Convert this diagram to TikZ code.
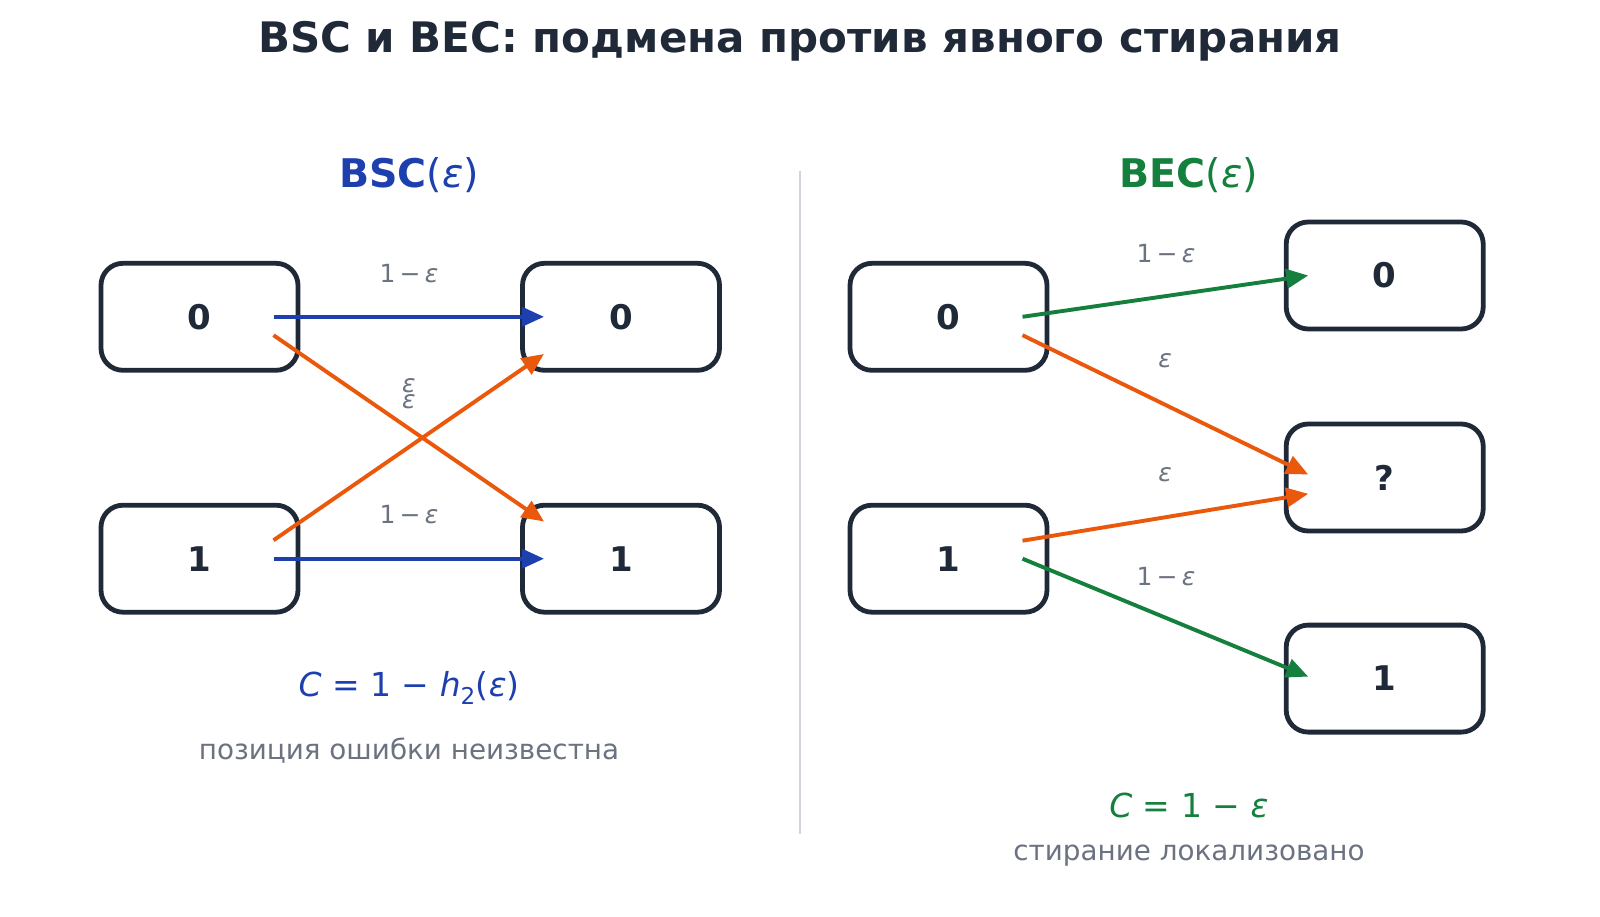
\documentclass[tikz,border=0pt]{standalone}
\usepackage{fontspec}
\setmainfont{DejaVu Sans}
\usepackage{tikz}
\usetikzlibrary{arrows.meta,positioning}
\definecolor{ink}{HTML}{1F2937}
\definecolor{bscblue}{HTML}{1E40AF}
\definecolor{becgreen}{HTML}{15803D}
\definecolor{fliporange}{HTML}{EA580C}
\definecolor{muted}{HTML}{6B7280}
\definecolor{divider}{HTML}{D1D5DB}
\newcommand{\epsit}{\textit{ε}}

\begin{document}
\begin{tikzpicture}[x=1pt, y=-1pt,
    box/.style={draw=ink, line width=4.8pt, rounded corners=22pt, fill=white, minimum width=197pt, minimum height=107pt, text=ink, font=\fontsize{34}{40}\selectfont\bfseries},
    arrow/.style={-{Triangle[length=22pt,width=19pt]}, line width=3.9pt},
    prob/.style={text=muted, font=\fontsize{25}{30}\selectfont},
    head/.style={font=\fontsize{39.5}{46}\selectfont},
    capacity/.style={font=\fontsize{33}{40}\selectfont},
    note/.style={text=muted, font=\fontsize{27.8}{33}\selectfont}
]
\useasboundingbox (0,0) rectangle (1600,917);

\node[text=ink, font=\fontsize{42}{48}\selectfont\bfseries] (title) at (800,41) {BSC и BEC: подмена против явного стирания};
\draw[divider, line width=2.5pt] (800,171) -- (800,834);

\node[head, text=bscblue] (bschead) at (409,175) {\textbf{BSC}(\epsit)};
\node[box] (bscin0) at (199.5,316.8) {0};
\node[box, below=130.1pt of bscin0] (bscin1) {1};
\node[box, right=219.7pt of bscin0] (bscout0) {0};
\node[box, right=219.7pt of bscin1] (bscout1) {1};
\draw[arrow, bscblue] ([xshift=74pt]bscin0.center) -- ([xshift=-77pt]bscout0.center);
\draw[arrow, bscblue] ([xshift=74pt]bscin1.center) -- ([xshift=-77pt]bscout1.center);
\draw[arrow, fliporange] ([xshift=74pt,yshift=-18.4pt]bscin0.center) -- ([xshift=-77pt,yshift=37.2pt]bscout1.center);
\draw[arrow, fliporange] ([xshift=74pt,yshift=18.4pt]bscin1.center) -- ([xshift=-77pt,yshift=-37.2pt]bscout0.center);
\node[prob] (bsctop) at (409,273.5) {1\,−\,\epsit};
\node[prob] (bscbot) at (409,515) {1\,−\,\epsit};
\node[prob] (bscflipa) at (409,385.5) {\epsit};
\node[prob] (bscflipb) at (409,401.5) {\epsit};
\node[capacity, text=bscblue] (bsccap) at (409,688) {\textit{C} = 1 − \textit{h}\textsubscript{2}(\epsit)};
\node[note] (bscnote) at (409,751) {позиция ошибки неизвестна};

\node[head, text=becgreen] (bechead) at (1189,175) {\textbf{BEC}(\epsit)};
\node[box] (becin0) at (948.5,316.8) {0};
\node[box] (becin1) at (948.5,558.7) {1};
\node[box] (becout0) at (1384.7,275.5) {0};
\node[box] (becerase) at (1384.7,477.5) {?};
\node[box] (becout1) at (1384.7,678.6) {1};
\draw[arrow, becgreen] ([xshift=74pt]becin0.center) -- ([xshift=-76.5pt]becout0.center);
\draw[arrow, fliporange] ([xshift=74pt,yshift=-18.4pt]becin0.center) -- ([xshift=-76.5pt,yshift=3pt]becerase.center);
\draw[arrow, fliporange] ([xshift=74pt,yshift=18pt]becin1.center) -- ([xshift=-76.5pt,yshift=-16.3pt]becerase.center);
\draw[arrow, becgreen] ([xshift=74pt]becin1.center) -- ([xshift=-76.5pt,yshift=2pt]becout1.center);
\node[prob] (bectop) at (1166,254) {1\,−\,\epsit};
\node[prob] (becerasea) at (1165,361) {\epsit};
\node[prob] (beceraseb) at (1165,474.5) {\epsit};
\node[prob] (becbot) at (1166,576.5) {1\,−\,\epsit};
\node[capacity, text=becgreen] (beccap) at (1189,805) {\textit{C} = 1 − \epsit};
\node[note] (becnote) at (1189,856) {стирание локализовано};
\end{tikzpicture}
\end{document}
